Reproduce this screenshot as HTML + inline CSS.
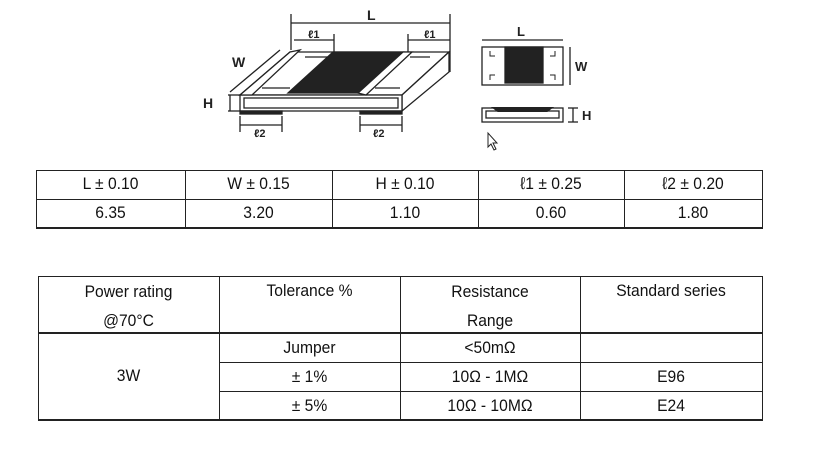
<!DOCTYPE html>
<html><head><meta charset="utf-8"><style>
body{margin:0;width:825px;height:452px;background:#fff;position:relative;overflow:hidden;font-family:"Liberation Sans",sans-serif;color:#111}
.l{position:absolute;background:#222}
.t{position:absolute;text-align:center;font-size:17px;line-height:20px;transform:scaleX(0.92)}
svg text{font-family:"Liberation Sans",sans-serif;font-weight:bold}
</style></head><body>
<svg width="825" height="160" style="position:absolute;left:0;top:0" fill="none" stroke="#222" stroke-width="1.3">
<line x1="291" y1="14" x2="291" y2="50"/><line x1="450" y1="14" x2="450" y2="72"/>
<line x1="291" y1="23" x2="450" y2="23"/><text x="367" y="20" font-size="14" fill="#222" stroke="none">L</text>
<line x1="294" y1="40" x2="334" y2="40"/><line x1="334" y1="34" x2="334" y2="52"/><text x="308" y="38" font-size="11" fill="#222" stroke="none">ℓ1</text>
<line x1="408" y1="40" x2="450" y2="40"/><line x1="408" y1="34" x2="408" y2="56"/><text x="424" y="38" font-size="11" fill="#222" stroke="none">ℓ1</text>
<polygon points="240,95 402,95 449,52 290,52" fill="#fff"/>
<polygon points="402,95 449,52 449,72 402,111" fill="#fff"/>
<rect x="240" y="95" width="162" height="16" fill="#fff"/>
<rect x="244" y="98" width="154" height="10"/>
<polygon points="333,52 403,52 358,93 288,93" fill="#222"/>
<polygon points="290,52 300,50 252,95 240,95" fill="#fff"/>
<polygon points="403,52 412,52 366,95 358,93" fill="#fff"/>
<line x1="262" y1="88" x2="290" y2="88"/><line x1="375" y1="88" x2="400" y2="88"/>
<line x1="305" y1="57" x2="330" y2="57"/><line x1="410" y1="57" x2="430" y2="57"/>
<rect x="240" y="111" width="42" height="3" fill="#222"/><rect x="360" y="111" width="42" height="3" fill="#222"/>
<line x1="230" y1="92" x2="280" y2="50"/><text x="232" y="67" font-size="14" fill="#222" stroke="none">W</text>
<line x1="228" y1="95" x2="240" y2="95"/><line x1="228" y1="111" x2="240" y2="111"/><line x1="230" y1="95" x2="230" y2="111"/>
<text x="203" y="108" font-size="14" fill="#222" stroke="none">H</text>
<line x1="240" y1="116" x2="240" y2="132"/><line x1="282" y1="116" x2="282" y2="132"/><line x1="240" y1="125" x2="282" y2="125"/>
<text x="254" y="137" font-size="11" fill="#222" stroke="none">ℓ2</text>
<line x1="360" y1="116" x2="360" y2="132"/><line x1="402" y1="116" x2="402" y2="132"/><line x1="360" y1="125" x2="402" y2="125"/>
<text x="373" y="137" font-size="11" fill="#222" stroke="none">ℓ2</text>
<line x1="482" y1="40" x2="563" y2="40"/><text x="517" y="36" font-size="13" fill="#222" stroke="none">L</text>
<rect x="482" y="47" width="81" height="38" fill="#fff"/>
<rect x="505" y="47" width="38" height="36" fill="#222"/>
<path d="M490 51v5h5M555 51v5h-5M490 80v-5h5M555 80v-5h-5" stroke-width="1"/>
<line x1="570" y1="47" x2="570" y2="85"/><text x="575" y="71" font-size="13" fill="#222" stroke="none">W</text>
<rect x="482" y="108" width="81" height="14" fill="#fff"/>
<rect x="486" y="111" width="73" height="7"/>
<polygon points="494,108 551,108 547,111 498,111" fill="#222" stroke-width="2"/>
<line x1="573" y1="108" x2="573" y2="122"/><line x1="568" y1="108" x2="578" y2="108"/><line x1="568" y1="122" x2="578" y2="122"/>
<text x="582" y="120" font-size="13" fill="#222" stroke="none">H</text>
<path d="M488 133 v14 l3 -3 l3 6 l2 -1 l-3 -6 h4 z" stroke-width="1" fill="#fff"/>
</svg>

<div class="l" style="left:36px;top:170px;width:727px;height:1px"></div>
<div class="l" style="left:36px;top:199px;width:727px;height:1px"></div>
<div class="l" style="left:36px;top:227px;width:727px;height:1.5px"></div>
<div class="l" style="left:36px;top:170px;width:1px;height:58px"></div>
<div class="l" style="left:185px;top:170px;width:1px;height:58px"></div>
<div class="l" style="left:332px;top:170px;width:1px;height:58px"></div>
<div class="l" style="left:478px;top:170px;width:1px;height:58px"></div>
<div class="l" style="left:624px;top:170px;width:1px;height:58px"></div>
<div class="l" style="left:762px;top:170px;width:1px;height:58px"></div>
<div class="t" style="left:36px;top:174px;width:149px">L ± 0.10</div>
<div class="t" style="left:185px;top:174px;width:147px">W ± 0.15</div>
<div class="t" style="left:332px;top:174px;width:146px">H ± 0.10</div>
<div class="t" style="left:478px;top:174px;width:146px">ℓ1 ± 0.25</div>
<div class="t" style="left:624px;top:174px;width:138px">ℓ2 ± 0.20</div>
<div class="t" style="left:36px;top:203px;width:149px">6.35</div>
<div class="t" style="left:185px;top:203px;width:147px">3.20</div>
<div class="t" style="left:332px;top:203px;width:146px">1.10</div>
<div class="t" style="left:478px;top:203px;width:146px">0.60</div>
<div class="t" style="left:624px;top:203px;width:138px">1.80</div>

<div class="l" style="left:38px;top:276px;width:725px;height:1px"></div>
<div class="l" style="left:38px;top:332px;width:725px;height:1.5px"></div>
<div class="l" style="left:219px;top:362px;width:544px;height:1px"></div>
<div class="l" style="left:219px;top:391px;width:544px;height:1px"></div>
<div class="l" style="left:38px;top:419px;width:725px;height:1.5px"></div>
<div class="l" style="left:38px;top:276px;width:1px;height:144px"></div>
<div class="l" style="left:219px;top:276px;width:1px;height:144px"></div>
<div class="l" style="left:400px;top:276px;width:1px;height:144px"></div>
<div class="l" style="left:580px;top:276px;width:1px;height:144px"></div>
<div class="l" style="left:762px;top:276px;width:1px;height:144px"></div>
<div class="t" style="left:38px;top:277px;width:181px;line-height:29px">Power rating<br>@70°C</div>
<div class="t" style="left:219px;top:281px;width:181px">Tolerance %</div>
<div class="t" style="left:400px;top:277px;width:180px;line-height:29px">Resistance<br>Range</div>
<div class="t" style="left:580px;top:281px;width:182px">Standard series</div>
<div class="t" style="left:38px;top:366px;width:181px">3W</div>
<div class="t" style="left:219px;top:338px;width:181px">Jumper</div>
<div class="t" style="left:400px;top:338px;width:180px">&lt;50mΩ</div>
<div class="t" style="left:219px;top:367px;width:181px">± 1%</div>
<div class="t" style="left:400px;top:367px;width:180px">10Ω - 1MΩ</div>
<div class="t" style="left:580px;top:367px;width:182px">E96</div>
<div class="t" style="left:219px;top:396px;width:181px">± 5%</div>
<div class="t" style="left:400px;top:396px;width:180px">10Ω - 10MΩ</div>
<div class="t" style="left:580px;top:396px;width:182px">E24</div>
</body></html>
